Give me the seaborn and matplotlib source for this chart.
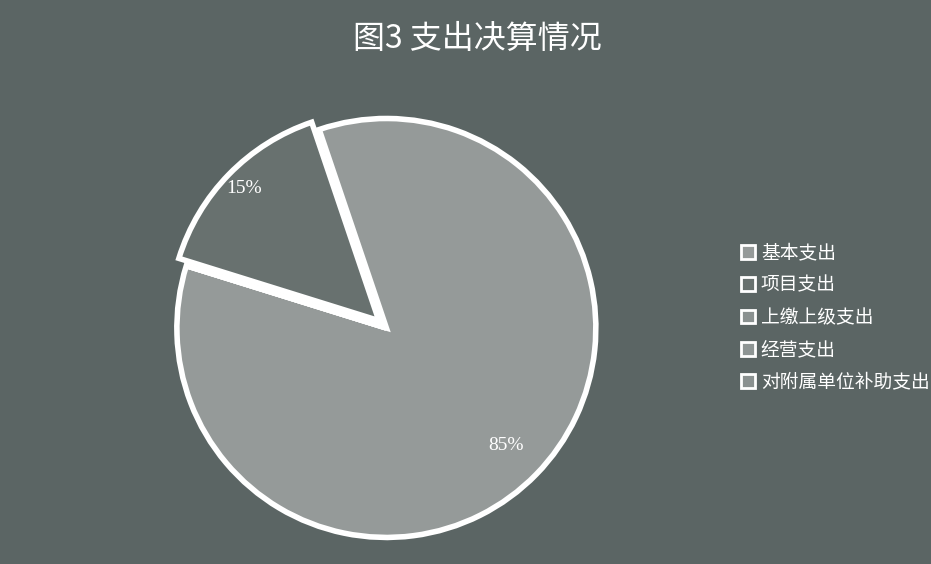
import numpy as np
import matplotlib
matplotlib.use("Agg")
import matplotlib.pyplot as plt
import seaborn as sns
from matplotlib.patches import Patch

# data
categories = ["基本支出", "项目支出", "上缴上级支出", "经营支出", "对附属单位补助支出"]
shares = [85, 15, 0, 0, 0]
slice_colors = ["#959a99", "#68716f", "#8a9190", "#8e9594", "#8a9190"]
title_text = "图3 支出决算情况"

sns.set_style("white")
plt.rcParams['font.family'] = ['Noto Sans CJK SC', 'DejaVu Sans']

bg = "#5b6564"
fig = plt.figure(figsize=(9.31, 5.64), dpi=100, facecolor=bg)
ax = fig.add_axes([0.19, 0.036, 0.45, 0.765])
ax.set_facecolor(bg)

wedges, texts, autotexts = ax.pie(
    shares, colors=slice_colors, startangle=162.7, counterclock=True,
    explode=[0, 0.05, 0, 0, 0],
    autopct=lambda p: f"{p:.0f}%" if p > 0 else "",
    pctdistance=0.8,
    wedgeprops=dict(edgecolor="white", linewidth=4),
    textprops=dict(color="white", fontsize=14, family=["Liberation Serif"]),
)
ax.set_aspect("equal")
ax.set_xlim(-1, 1)
ax.set_ylim(-1, 1)
ax.axis("off")

# move the small slice label nearer its outer arc
w = wedges[1]
mid = np.deg2rad((w.theta1 + w.theta2) / 2)
autotexts[1].set_position((0.95 * np.cos(mid), 0.95 * np.sin(mid)))

fig.suptitle(title_text, color="white", fontsize=23, x=0.513, y=0.96)

handles = [Patch(facecolor=c, edgecolor="white", linewidth=2) for c in slice_colors]
leg = fig.legend(handles, categories, loc="upper left", bbox_to_anchor=(0.778, 0.6),
                 frameon=False, fontsize=13.5, labelcolor="white",
                 handlelength=0.75, handleheight=0.75, handletextpad=0.3,
                 labelspacing=0.6)

fig.savefig("out.png", dpi=100, facecolor=bg)
